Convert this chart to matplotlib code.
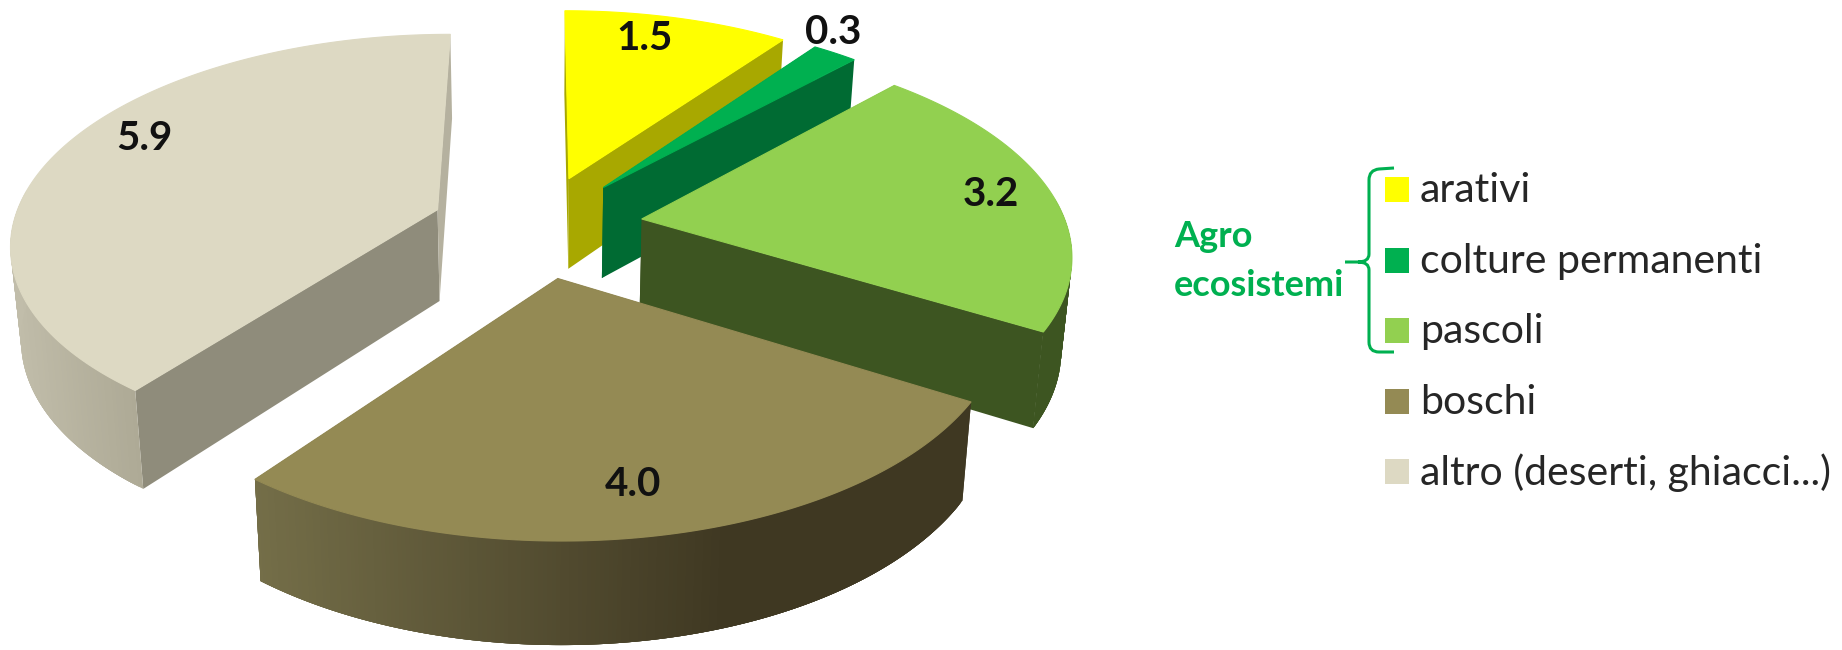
import numpy as np
import matplotlib
matplotlib.use("Agg")
import matplotlib.pyplot as plt
from matplotlib.colors import LinearSegmentedColormap
from matplotlib.patches import PathPatch, Polygon, Rectangle
from matplotlib.path import Path

categories = ["arativi", "colture permanenti", "pascoli", "boschi", "altro (deserti, ghiacci...)"]
values = [1.5, 0.3, 3.2, 4.0, 5.9]
top_colors = ["#ffff00", "#00b050", "#92d050", "#948a54", "#ddd9c3"]
start_face_colors = ["#a8a800", "#006b33", "#3d5521", "#3f3822", "#8f8c7b"]
end_face_colors = ["#a8a800", "#006b33", "#3d5521", "#3f3822", "#b5b19f"]
wall_colors = [
    [(0, "#a8a800"), (1, "#a8a800")],
    [(0, "#006b33"), (1, "#006b33")],
    [(0, "#3d5521"), (1, "#3d5521")],
    [(0, "#746e48"), (0.66, "#3f3822"), (1, "#3f3822")],
    [(0, "#c1bdaa"), (1, "#aeaa96")],
]
group_label = ["Agro", "ecosistemi"]
label_pos = [(645, 39), (833, 32), (991, 194), (633, 484), (144, 138)]

# perspective of the pie, in pixels
CX, CY = 537, 226
SCALE_X, SCALE_Y = 425, 206
PERSP = 0.149
DEPTH = 92
BOTTOM_SHRINK = 0.98
EXPLODE = 0.25

GREEN = "#00b050"
plt.rcParams["font.family"] = ["Lato", "DejaVu Sans"]


def project(u, v, lower=False):
    d = 1 + PERSP * v
    x = u / d * SCALE_X
    y = CY - SCALE_Y * v / d
    if lower:
        return CX + x * BOTTOM_SHRINK, y + DEPTH / d ** 0.6
    return CX + x, y


def side_face(ax, ex, ey, angle, color, zorder):
    u = ex + np.sin(angle)
    v = ey + np.cos(angle)
    pts = [project(ex, ey), project(u, v), project(u, v, True), project(ex, ey, True)]
    ax.add_patch(Polygon(pts, closed=True, fc=color, ec="none", zorder=zorder))


def draw_slice(ax, start, end, top, start_c, end_c, wall, zorder):
    mid = (start + end) / 2
    ex = EXPLODE * np.sin(mid)
    ey = EXPLODE * np.cos(mid)
    th = np.linspace(start, end, 200)
    us = ex + np.sin(th)
    vs = ey + np.cos(th)

    side_face(ax, ex, ey, start, start_c, zorder)
    side_face(ax, ex, ey, end, end_c, zorder)

    # only the part of the rim that faces the viewer
    near = np.cos(th) < 0.1
    if near.any():
        tx, ty = project(us[near], vs[near])
        bx, by = project(us[near], vs[near], True)
        cmap = LinearSegmentedColormap.from_list("wall", wall)
        lo, hi = bx.min(), bx.max()
        n = len(tx)
        for i in range(n - 1):
            # strips overlap the next ones so no seams show between them
            j = min(i + 4, n - 1)
            pts = list(zip(tx[i:j + 1], ty[i:j + 1])) + list(zip(bx[i:j + 1], by[i:j + 1]))[::-1]
            ax.add_patch(Polygon(pts, closed=True, fc=cmap((bx[i] - lo) / (hi - lo)), ec="none",
                                 zorder=zorder + 0.1))

    x, y = project(us, vs)
    ax_, ay_ = project(ex, ey)
    pts = [(ax_, ay_)] + list(zip(x, y))
    ax.add_patch(Polygon(pts, closed=True, fc=top, ec=top, lw=0.8, zorder=zorder + 0.2))


def draw_pie(ax):
    edges = np.concatenate([[0], np.cumsum(values)]) / sum(values) * 2 * np.pi
    # far slices first, boschi last so that it sits over pascoli
    for z, i in enumerate([0, 1, 2, 4, 3]):
        draw_slice(ax, edges[i], edges[i + 1], top_colors[i], start_face_colors[i],
                   end_face_colors[i], wall_colors[i], z + 1)
    for val, (x, y) in zip(values, label_pos):
        ax.text(x, y, f"{val:.1f}", ha="center", va="center", fontsize=29,
                fontweight="bold", color="#111111", zorder=10)


def draw_legend(ax):
    for i, (name, color) in enumerate(zip(categories, top_colors)):
        yc = 189.5 + i * 70.5
        ax.add_patch(Rectangle((1385, yc - 12.5), 24, 25, fc=color, ec="none", zorder=5))
        ax.text(1420, yc + 13, name, ha="left", va="baseline", fontsize=29.5,
                color="#262626", zorder=5)
    ax.text(1174, 247, group_label[0], ha="left", va="baseline", fontsize=26,
            fontweight="bold", color=GREEN)
    ax.text(1174, 296, group_label[1], ha="left", va="baseline", fontsize=26,
            fontweight="bold", color=GREEN)

    # curly bracket around the three agro classes
    verts = [(1394, 168), (1379, 169), (1369, 170), (1369, 180), (1369, 254), (1369, 262), (1358, 262),
             (1345, 262), (1358, 262), (1369, 262), (1369, 270), (1369, 342), (1369, 352), (1379, 352),
             (1394, 352)]
    codes = [Path.MOVETO, Path.LINETO, Path.CURVE3, Path.CURVE3, Path.LINETO, Path.CURVE3, Path.CURVE3,
             Path.LINETO, Path.MOVETO, Path.CURVE3, Path.CURVE3, Path.LINETO, Path.CURVE3, Path.CURVE3,
             Path.LINETO]
    ax.add_patch(PathPatch(Path(verts, codes), fc="none", ec=GREEN, lw=2.2))


if __name__ == "__main__":
    fig = plt.figure(figsize=(18.42, 6.5), dpi=100)
    ax = fig.add_axes([0, 0, 1, 1])
    ax.set_xlim(0, 1842)
    ax.set_ylim(650, 0)
    ax.axis("off")
    draw_pie(ax)
    draw_legend(ax)
    fig.savefig("out.png", dpi=100, facecolor="white")
